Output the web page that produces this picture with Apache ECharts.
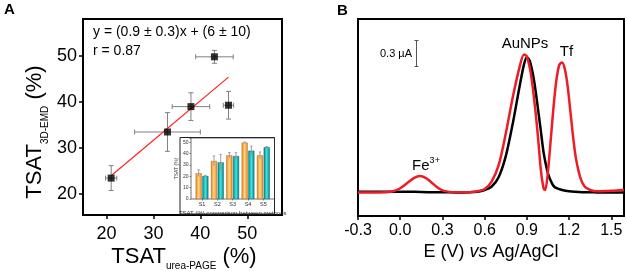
<!DOCTYPE html>
<html><head><meta charset="utf-8">
<script src="https://cdn.jsdelivr.net/npm/echarts@6/dist/echarts.min.js"></script>
<style>html,body{margin:0;padding:0;background:#fff}#c{width:627px;height:271px}</style>
</head><body><div id="c"></div>
<script>
// ---------- DATA ----------
// Panel A scatter: TSAT by urea-PAGE (x) vs by 3D-EMD (y), with error bars
const tsatUreaPage    = [21.0, 33.0, 38.0, 43.0, 46.0];
const tsatUreaPageErr = [1.2, 7.0, 4.0, 4.0, 1.1];
const tsat3dEmd       = [23.5, 33.5, 39.0, 49.8, 39.3];
const tsat3dEmdErr    = [2.7, 4.2, 3.0, 1.4, 3.0];
// fitted line end points
const fitX = [21.0, 46.0];
const fitY = [24.0, 45.4];
const ticksAX = [20, 30, 40, 50];
const ticksAY = [20, 30, 40, 50];
// Inset bar chart
const sampleLabels = ['S1', 'S2', 'S3', 'S4', 'S5'];
const insetEmd     = [22.7, 33.5, 38.5, 49.7, 38.5];
const insetEmdErr  = [3.0, 4.4, 2.5, 0.5, 3.0];
const insetUrea    = [20.3, 32.3, 37.9, 42.6, 45.6];
const insetUreaErr = [0.6, 7.0, 3.0, 4.0, 0.7];
const ticksInsetY  = [0, 10, 20, 30, 40, 50];
// Panel B voltammograms: potential (V) and current (uA)
const potentialTicks = [-0.3, 0.0, 0.3, 0.6, 0.9, 1.2, 1.5];
const blackE = [-0.30,-0.20,-0.10,0.00,0.10,0.20,0.30,0.40,0.50,0.55,0.60,0.65,0.70,0.75,0.80,0.85,0.88,0.90,0.92,0.95,0.98,1.00,1.02,1.05,1.08,1.10,1.15,1.20,1.30,1.40,1.50,1.59];
const blackI = [0.010,0.010,0.010,0.010,0.008,0.005,0.003,0.002,0.005,0.010,0.030,0.070,0.180,0.420,0.800,1.240,1.480,1.560,1.520,1.300,0.950,0.700,0.450,0.220,0.100,0.060,0.030,0.015,0.005,0.002,0.000,0.000];
const redE = [-0.30,-0.20,-0.10,-0.05,0.00,0.05,0.10,0.14,0.18,0.22,0.26,0.30,0.35,0.40,0.50,0.55,0.60,0.65,0.70,0.75,0.80,0.85,0.88,0.90,0.93,0.96,0.98,1.00,1.02,1.03,1.05,1.07,1.09,1.11,1.13,1.15,1.17,1.19,1.21,1.23,1.25,1.28,1.31,1.35,1.40,1.50,1.59];
const redI = [0.000,0.000,0.005,0.015,0.050,0.110,0.170,0.190,0.170,0.120,0.065,0.025,0.008,0.003,0.005,0.015,0.040,0.130,0.320,0.680,1.100,1.460,1.590,1.570,1.350,0.950,0.620,0.250,0.040,0.030,0.250,0.620,1.000,1.300,1.470,1.500,1.420,1.220,0.920,0.620,0.380,0.170,0.070,0.030,0.015,0.020,0.030];

// ---------- CHART ----------
const FF = '"Liberation Sans", Arial, Helvetica, sans-serif';
const chart = echarts.init(document.getElementById('c'), null, {renderer: 'canvas'});

function scatterErr(params, api) {
  const x = api.value(0), y = api.value(1), ex = api.value(2), ey = api.value(3);
  const l = api.coord([x - ex, y]), r = api.coord([x + ex, y]);
  const t = api.coord([x, y + ey]), b = api.coord([x, y - ey]);
  const cap = 2.5;
  const st = {stroke: '#808080', lineWidth: 1};
  return {type: 'group', children: [
    {type: 'line', shape: {x1: l[0], y1: l[1], x2: r[0], y2: r[1]}, style: st},
    {type: 'line', shape: {x1: l[0], y1: l[1] - cap, x2: l[0], y2: l[1] + cap}, style: st},
    {type: 'line', shape: {x1: r[0], y1: r[1] - cap, x2: r[0], y2: r[1] + cap}, style: st},
    {type: 'line', shape: {x1: t[0], y1: t[1], x2: b[0], y2: b[1]}, style: st},
    {type: 'line', shape: {x1: t[0] - cap, y1: t[1], x2: t[0] + cap, y2: t[1]}, style: st},
    {type: 'line', shape: {x1: b[0] - cap, y1: b[1], x2: b[0] + cap, y2: b[1]}, style: st}
  ]};
}
function barErr(offset) {
  return function (params, api) {
    const i = api.value(0), v = api.value(1), e = api.value(2);
    const t = api.coord([i, v + e]), b = api.coord([i, v - e]);
    const x = t[0] + offset, cap = 1.2;
    const st = {stroke: '#8a8a8a', lineWidth: 0.8};
    return {type: 'group', children: [
      {type: 'line', shape: {x1: x, y1: t[1], x2: x, y2: b[1]}, style: st},
      {type: 'line', shape: {x1: x - cap, y1: t[1], x2: x + cap, y2: t[1]}, style: st}
    ]};
  };
}
const orangeGrad = new echarts.graphic.LinearGradient(0, 0, 1, 0, [
  {offset: 0, color: '#ee7f12'}, {offset: 0.5, color: '#ffd98a'}, {offset: 1, color: '#ee7f12'}]);
const tealGrad = new echarts.graphic.LinearGradient(0, 0, 1, 0, [
  {offset: 0, color: '#067e82'}, {offset: 0.5, color: '#3fe6e6'}, {offset: 1, color: '#067e82'}]);

const option = {
  backgroundColor: '#fff',
  animation: false,
  textStyle: {fontFamily: FF},
  grid: [
    {left: 83, top: 19, right: 345, bottom: 56, show: true, borderColor: '#000', borderWidth: 2, backgroundColor: 'transparent'},
    {left: 358, top: 19, right: 3, bottom: 55, show: true, borderColor: '#000', borderWidth: 2, backgroundColor: 'transparent'},
    {left: 194.35, top: 138, right: 356, bottom: 72, show: false}
  ],
  xAxis: [
    {gridIndex: 0, type: 'value', min: 15, max: 57.4,
     axisLine: {show: false, onZero: false}, splitLine: {show: false},
     axisTick: {show: true, inside: false, length: 4, lineStyle: {color: '#000', width: 1.5}, customValues: ticksAX},
     axisLabel: {color: '#000', fontSize: 18, fontFamily: FF, margin: 10, customValues: ticksAX}},
    {gridIndex: 1, type: 'value', min: -0.3, max: 1.59,
     axisLine: {show: false, onZero: false}, splitLine: {show: false},
     axisTick: {show: true, length: 4, lineStyle: {color: '#000', width: 1.5}, customValues: potentialTicks},
     axisLabel: {color: '#000', fontSize: 16, fontFamily: FF, margin: 7, customValues: potentialTicks,
                 formatter: v => v.toFixed(1)}},
    {gridIndex: 2, type: 'category', data: sampleLabels, boundaryGap: true,
     axisLine: {show: false, onZero: false}, splitLine: {show: false},
     axisTick: {show: true, alignWithLabel: true, length: 1.5, lineStyle: {color: '#333', width: 0.6}},
     axisLabel: {color: '#333', fontSize: 5.5, fontFamily: FF, margin: 2.5},
     name: 'TSAT (%) comparison between methods', nameLocation: 'middle', nameGap: 11,
     nameTextStyle: {color: '#333', fontSize: 6, fontFamily: FF}}
  ],
  yAxis: [
    {gridIndex: 0, type: 'value', min: 15.5, max: 58,
     axisLine: {show: false, onZero: false}, splitLine: {show: false},
     axisTick: {show: true, length: 4, lineStyle: {color: '#000', width: 1.5}, customValues: ticksAY},
     axisLabel: {color: '#000', fontSize: 18, fontFamily: FF, margin: 6, customValues: ticksAY}},
    {gridIndex: 1, type: 'value', min: -0.27, max: 2.0, show: false,
     axisLine: {show: false, onZero: false}},
    {gridIndex: 2, type: 'value', min: 0, max: 53.8, interval: 10, offset: 3.35,
     axisLine: {show: false, onZero: false}, splitLine: {show: false},
     axisTick: {show: true, length: 1.5, lineStyle: {color: '#333', width: 0.6}},
     axisLabel: {color: '#333', fontSize: 5, fontFamily: FF, margin: 2.5, customValues: ticksInsetY},
     name: 'TSAT (%)', nameLocation: 'middle', nameGap: 11, nameRotate: 90,
     nameTextStyle: {color: '#333', fontSize: 5, fontFamily: FF}}
  ],
  series: [
    {type: 'custom', xAxisIndex: 0, yAxisIndex: 0, renderItem: scatterErr, z: 2,
     encode: {x: 0, y: 1},
     data: tsatUreaPage.map((x, i) => [x, tsat3dEmd[i], tsatUreaPageErr[i], tsat3dEmdErr[i]])},
    {type: 'line', xAxisIndex: 0, yAxisIndex: 0, symbol: 'none', z: 3,
     lineStyle: {color: '#ff2020', width: 1.2},
     data: fitX.map((x, i) => [x, fitY[i]])},
    {type: 'scatter', xAxisIndex: 0, yAxisIndex: 0, symbol: 'rect', symbolSize: 7, z: 4,
     itemStyle: {color: '#000'},
     data: tsatUreaPage.map((x, i) => [x, tsat3dEmd[i]])},
    {type: 'bar', xAxisIndex: 2, yAxisIndex: 2, barWidth: 6, barGap: '12%', z: 3,
     itemStyle: {color: orangeGrad, borderColor: '#9a5a10', borderWidth: 0.4},
     data: insetEmd},
    {type: 'bar', xAxisIndex: 2, yAxisIndex: 2, barWidth: 6, z: 3,
     itemStyle: {color: tealGrad, borderColor: '#0a5050', borderWidth: 0.4},
     data: insetUrea},
    {type: 'custom', xAxisIndex: 2, yAxisIndex: 2, renderItem: barErr(-3.35), z: 4,
     encode: {x: 0, y: 1}, data: insetEmd.map((v, i) => [i, v, insetEmdErr[i]])},
    {type: 'custom', xAxisIndex: 2, yAxisIndex: 2, renderItem: barErr(3.35), z: 4,
     encode: {x: 0, y: 1}, data: insetUrea.map((v, i) => [i, v, insetUreaErr[i]])},
    {type: 'line', xAxisIndex: 1, yAxisIndex: 1, symbol: 'none', smooth: 0.3, z: 3,
     lineStyle: {color: '#000', width: 2.5},
     data: blackE.map((e, i) => [e, blackI[i]])},
    {type: 'line', xAxisIndex: 1, yAxisIndex: 1, symbol: 'none', smooth: 0.3, z: 4,
     lineStyle: {color: '#ee1c24', width: 2.5},
     data: redE.map((e, i) => [e, redI[i]])}
  ],
  graphic: [
    {type: 'text', left: 4, top: 2, style: {text: 'A', font: 'bold 15px ' + FF, fill: '#000'}},
    {type: 'text', left: 337, top: 3, style: {text: 'B', font: 'bold 15px ' + FF, fill: '#000'}},
    {type: 'text', x: 93, y: 32, style: {text: 'y = (0.9 \u00b1 0.3)x + (6 \u00b1 10)', font: '14px ' + FF, fill: '#000',
      align: 'left', verticalAlign: 'middle', textAlign: 'left', textVerticalAlign: 'middle'}},
    {type: 'text', x: 93, y: 51, style: {text: 'r = 0.87', font: '14px ' + FF, fill: '#000',
      align: 'left', verticalAlign: 'middle', textAlign: 'left', textVerticalAlign: 'middle'}},
    // inset outer frame and plot frame
    {type: 'rect', shape: {x: 180, y: 137.5, width: 94.5, height: 76.5}, style: {fill: 'none', stroke: '#222', lineWidth: 1}, z: 1},
    {type: 'rect', shape: {x: 191, y: 138, width: 83.5, height: 61}, style: {fill: 'none', stroke: '#333', lineWidth: 0.7}, z: 1},
    // axis titles A
    {type: 'text', x: 184, y: 266.5, style: {
      text: '{m|TSAT}{s|urea-PAGE}{m| (%)}', fill: '#000',
      align: 'center', verticalAlign: 'middle', textAlign: 'center', textVerticalAlign: 'middle',
      rich: {m: {fontSize: 22, lineHeight: 22, verticalAlign: 'top', fontFamily: FF},
             s: {fontSize: 10, lineHeight: 42, fontFamily: FF}}}},
    {type: 'text', x: 45, y: 132, rotation: Math.PI / 2, style: {
      text: '{m|TSAT}{s|3D-EMD}{m| (%)}', fill: '#000',
      align: 'center', verticalAlign: 'middle', textAlign: 'center', textVerticalAlign: 'middle',
      rich: {m: {fontSize: 22, lineHeight: 22, verticalAlign: 'top', fontFamily: FF},
             s: {fontSize: 10, lineHeight: 42, fontFamily: FF}}}},
    // Panel B annotations
    {type: 'text', x: 525, y: 43.5, style: {text: 'AuNPs', font: '15px ' + FF, fill: '#000',
      align: 'center', verticalAlign: 'middle', textAlign: 'center', textVerticalAlign: 'middle'}},
    {type: 'text', x: 566.5, y: 51.5, style: {text: 'Tf', font: '15px ' + FF, fill: '#000',
      align: 'center', verticalAlign: 'middle', textAlign: 'center', textVerticalAlign: 'middle'}},
    {type: 'text', x: 426, y: 165, style: {
      text: '{m|Fe}{p|3+}', fill: '#000',
      align: 'center', verticalAlign: 'middle', textAlign: 'center', textVerticalAlign: 'middle',
      rich: {m: {fontSize: 15, lineHeight: 17, verticalAlign: 'bottom', fontFamily: FF},
             p: {fontSize: 9, lineHeight: 9, verticalAlign: 'top', fontFamily: FF}}}},
    {type: 'line', shape: {x1: 416.5, y1: 40.5, x2: 416.5, y2: 66.5}, style: {stroke: '#555', lineWidth: 1}},
    {type: 'line', shape: {x1: 414.5, y1: 40.5, x2: 418.5, y2: 40.5}, style: {stroke: '#555', lineWidth: 1}},
    {type: 'line', shape: {x1: 414.5, y1: 66.5, x2: 418.5, y2: 66.5}, style: {stroke: '#555', lineWidth: 1}},
    {type: 'text', x: 412, y: 54, style: {text: '0.3 \u00b5A', font: '11px ' + FF, fill: '#000',
      align: 'right', verticalAlign: 'middle', textAlign: 'right', textVerticalAlign: 'middle'}},
    {type: 'text', x: 491, y: 252, style: {
      text: '{n|E (V) }{i|vs}{n| Ag/AgCl}', fill: '#000',
      align: 'center', verticalAlign: 'middle', textAlign: 'center', textVerticalAlign: 'middle',
      rich: {n: {fontSize: 18, fontFamily: FF}, i: {fontSize: 18, fontStyle: 'italic', fontFamily: FF}}}}
  ]
};
chart.setOption(option);
</script></body></html>
